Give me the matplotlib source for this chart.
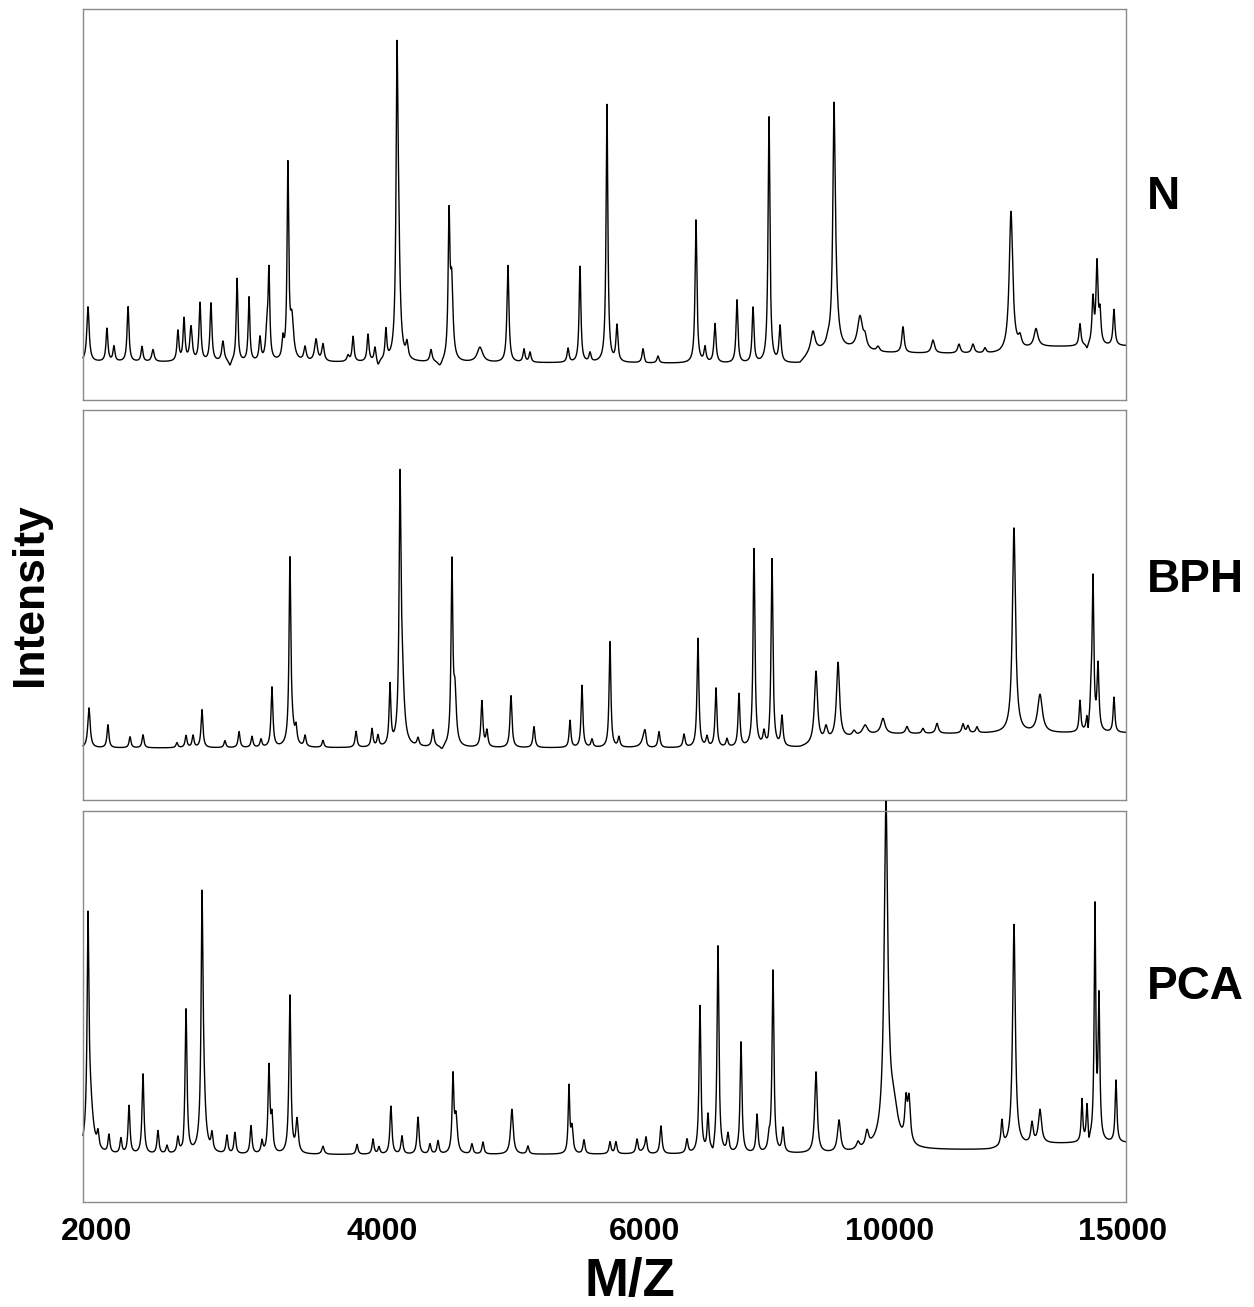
import matplotlib
matplotlib.use("Agg")
import matplotlib.pyplot as plt
import numpy as np

plt.rcParams['font.family'] = ['Liberation Sans', 'DejaVu Sans']

# m/z axis is not linear in the original figure: tick labels sit at these spots
tick_mz = [2000, 4000, 6000, 10000, 15000]
tick_labels = ['2000', '4000', '6000', '10000', '15000']
scale_mz = [1000, 2000, 4000, 6000, 10000, 15000, 20000]
scale_pos = [-45.5, 97, 382, 645, 890, 1123, 1356]

# N spectrum: peak centres (m/z), heights, widths
n_mz = [1937, 2070, 2119, 2218, 2316, 2393, 2568, 2611, 2660, 2723, 2800, 2884,
        2933, 2983, 3067, 3144, 3193, 3207, 3305, 3340, 3368, 3460, 3537, 3586,
        3762, 3797, 3902, 3951, 3973, 4030, 4114, 4124, 4190, 4373, 4441, 4510,
        4530, 4745, 4958, 5080, 5126, 5415, 5506, 5582, 5711, 5787, 5985, 6212,
        6833, 6980, 7143, 7502, 7764, 8025, 8205, 8743, 8988, 9086, 9110, 9511,
        9593, 9805, 10279, 10923, 11481, 11781, 12039, 12597, 12790, 13133,
        14077, 14228, 14356, 14442, 14507, 14807]
n_h = [55, 33, 15, 55, 15, 12, 30, 42, 34, 58, 58, 20,
       -6, 83, 64, 23, 30, 85, 19, 192, 40, 14, 22, 17,
       6, 25, 27, 14, -6, 30, 240, 120, 15, 12, -6, 137,
       75, 15, 97, 13, 10, 14, 96, 9, 258, 36, 14, 7,
       143, 15, 39, 63, 55, 246, 36, 19, 5, 212, 45, 33,
       10, 5, 26, 13, 9, 9, 5, 140, 10, 18,
       22, -5, 45, 80, 30, 36]
n_w = [10, 8, 8, 8, 8, 10, 8, 8, 10, 8, 8, 10,
       10, 7, 7, 8, 10, 7, 8, 7, 14, 10, 12, 10,
       10, 8, 8, 8, 10, 8, 8, 14, 10, 10, 20, 8,
       12, 25, 9, 9, 9, 9, 8, 9, 8, 9, 9, 20,
       18, 20, 20, 18, 18, 18, 20, 40, 30, 22, 45, 50,
       30, 30, 30, 40, 35, 35, 30, 45, 40, 50,
       25, 25, 25, 25, 25, 25]
n_base_mz = [1902, 8531, 8727, 9348, 9837, 12361, 13219, 15065]
n_base = [0, -2, 10, 12, 9, 8, 15, 16]

# BPH spectrum
b_mz = [1944, 2077, 2232, 2323, 2561, 2625, 2674, 2737, 2898, 2997, 3088, 3151,
        3228, 3354, 3365, 3397, 3460, 3586, 3818, 3930, 3972, 4061, 4137, 4152,
        4274, 4388, 4456, 4532, 4555, 4760, 4798, 4981, 5156, 5430, 5521, 5597,
        5734, 5802, 6000, 6229, 6637, 6865, 7012, 7159, 7339, 7535, 7780, 7943,
        8009, 8074, 8237, 8792, 8956, 9152, 9413, 9593, 9886, 10365, 10708,
        11009, 11567, 11674, 11867, 12661, 13219, 14077, 14228, 14249, 14313,
        14356, 14464, 14807]
b_h = [40, 23, 11, 13, 5, 12, 12, 38, 7, 16, 11, 8,
       60, 175, 20, 15, 11, 7, 16, 18, 11, 60, 236, 70,
       8, 17, -4, 180, 50, 46, 16, 52, 21, 27, 62, 8,
       106, 10, 18, 16, 13, 109, 10, 59, 8, 53, 198, 13,
       -4, 188, 30, 72, 13, 76, 5, 10, 15, 7, 5,
       10, 9, 7, 6, 205, 38, 31, 14, -12, 25,
       150, 65, 35]
b_w = [10, 8, 8, 8, 8, 8, 8, 8, 8, 8, 8, 8,
       8, 7, 20, 8, 8, 8, 8, 8, 8, 8, 8, 18,
       10, 10, 15, 8, 12, 9, 9, 9, 9, 8, 8, 9,
       8, 9, 20, 20, 20, 18, 20, 18, 20, 18, 18, 20,
       20, 18, 20, 30, 30, 30, 30, 50, 40, 35, 30,
       35, 30, 30, 30, 40, 60, 22, 22, 15, 22,
       22, 25, 22]
b_base_mz = [1902, 8531, 9184, 9837, 15065]
b_base = [0, 0, 9, 14, 15]

# PCA spectrum
p_mz = [1937, 1950, 2007, 2084, 2168, 2225, 2323, 2428, 2491, 2568, 2604, 2625,
        2737, 2744, 2807, 2912, 2968, 3081, 3158, 3207, 3228, 3354, 3404, 3586,
        3825, 3937, 3979, 4068, 4152, 4274, 4365, 4426, 4540, 4563, 4684, 4768,
        4988, 5110, 5422, 5445, 5536, 5734, 5779, 5939, 6016, 6261, 6686, 6898,
        7029, 7110, 7192, 7355, 7568, 7829, 8025, 8090, 8254, 8792, 9168, 9478,
        9625, 9935, 10064, 10343, 10408, 12403, 12661, 13047, 13219, 14120,
        14228, 14271, 14399, 14485, 14850]
p_h = [200, 55, 15, 18, 15, 48, 80, 23, 8, 15, -5, 144,
       200, 75, 17, 18, 21, 28, 12, 86, 33, 158, 33, 8,
       10, 15, 7, 48, 18, 37, 10, 13, 75, 35, 10, 12,
       45, 8, 66, 25, 14, 12, 12, 14, 17, 28, 14, 147,
       36, -6, 207, 18, 111, 38, 12, 182, 24, 81, 32, 7,
       15, 328, 45, 38, 43, 25, 222, 20, 33, 42,
       35, -8, 232, 140, 62]
p_w = [7, 25, 8, 8, 8, 8, 8, 8, 8, 8, 8, 8,
       7, 16, 8, 8, 8, 8, 8, 8, 8, 8, 10, 10,
       8, 8, 8, 9, 9, 9, 9, 9, 8, 12, 9, 9,
       12, 9, 7, 10, 9, 9, 9, 9, 20, 20, 20, 18,
       18, 20, 18, 20, 18, 18, 20, 18, 20, 25, 30, 30,
       30, 35, 120, 30, 35, 25, 35, 30, 40, 20,
       20, 15, 20, 22, 22]
p_base_mz = [1902, 9184, 10172, 12146, 13219, 15065]
p_base = [0, 1, 5, 5, 11, 12]

panel_names = ['N', 'BPH', 'PCA']


def fwd(x):
    return np.interp(x, scale_mz, scale_pos)


def inv(p):
    return np.interp(p, scale_pos, scale_mz)


def spectrum(mz, centres, heights, widths, base_mz, base):
    y = np.interp(mz, base_mz, base)
    for c, h, w in zip(centres, heights, widths):
        y = y + h / (1.0 + ((mz - c) / w) ** 2)
    return y


mz = np.linspace(1902, 15065, 40000)
spectra = [spectrum(mz, n_mz, n_h, n_w, n_base_mz, n_base),
           spectrum(mz, b_mz, b_h, b_w, b_base_mz, b_base),
           spectrum(mz, p_mz, p_h, p_w, p_base_mz, p_base)]

fig = plt.figure(figsize=(12.54, 13.07), dpi=100)

W, H = 1254.0, 1307.0
# panel pixel boxes: top, bottom
boxes = [(9, 400), (410, 800), (811, 1202)]
ylims = [(-38, 353), (-52, 338), (-47, 344)]
label_y = [197, 580, 987]

for i in range(3):
    top, bot = boxes[i]
    ax = fig.add_axes([83 / W, 1 - bot / H, 1043 / W, (bot - top) / H])
    ax.set_xscale('function', functions=(fwd, inv))
    ax.plot(mz, spectra[i], color='black', linewidth=1.0, clip_on=False)
    ax.set_xlim(1902, 15065)
    ax.set_ylim(*ylims[i])
    ax.set_yticks([])
    for s in ax.spines.values():
        s.set_color('#8a8a8a')
        s.set_linewidth(1.0)
    ax.xaxis.set_minor_locator(matplotlib.ticker.NullLocator())
    if i < 2:
        ax.set_xticks([])
    else:
        ax.set_xticks(tick_mz)
        ax.set_xticklabels(tick_labels, fontsize=23, fontweight='bold')
        ax.tick_params(axis='x', length=0, pad=11)
    fig.text(1147 / W, 1 - label_y[i] / H, panel_names[i], fontsize=33,
             fontweight='bold', ha='left', va='center')

fig.text(31 / W, 1 - 595 / H, 'Intensity', rotation=90, fontsize=32,
         fontweight='bold', ha='center', va='center')
fig.text(630 / W, 1 - 1282 / H, 'M/Z', fontsize=38, fontweight='bold',
         ha='center', va='center')

fig.savefig('out.png', dpi=100)
